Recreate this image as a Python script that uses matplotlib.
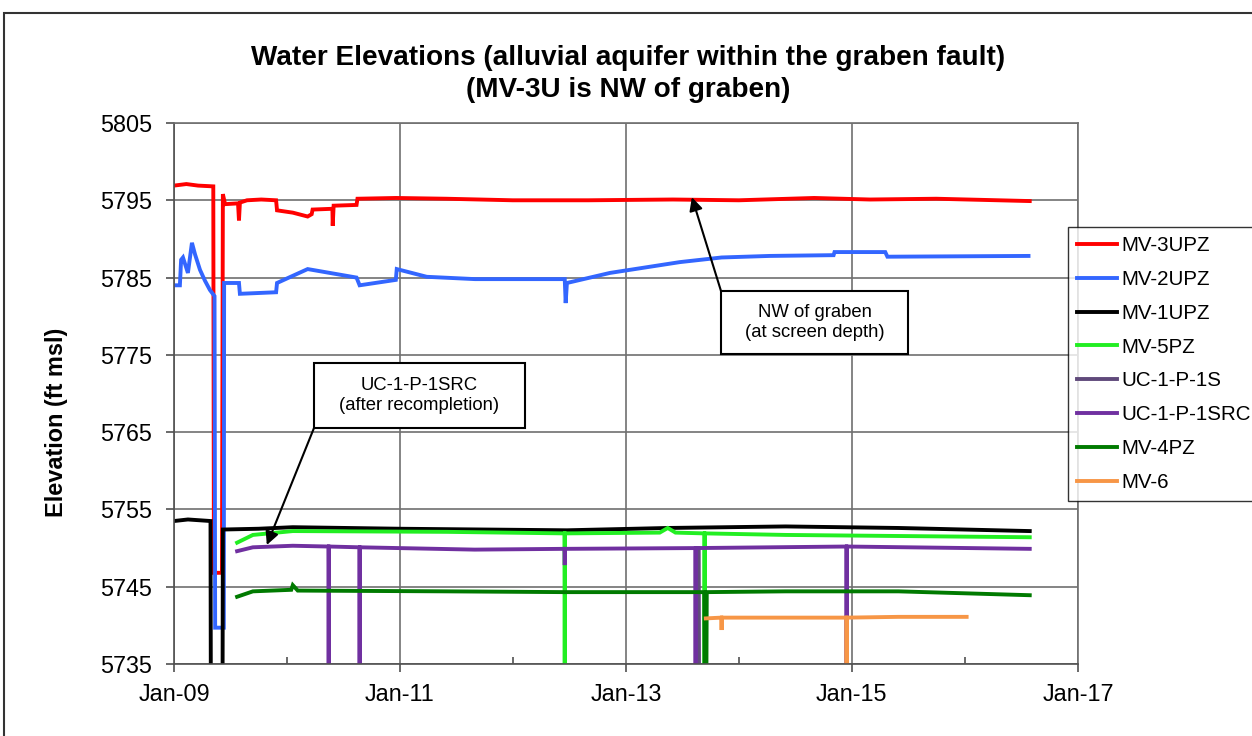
import pandas as pd
import matplotlib
matplotlib.use("Agg")
from matplotlib import pyplot as plt
import matplotlib.dates as mdates
from matplotlib.patches import Rectangle

plt.rcParams['font.family'] = ['Liberation Sans', 'DejaVu Sans']

# series: dates and elevations (ft msl)
mv3_dates = ['2009-01-01', '2009-02-10', '2009-03-20', '2009-05-08', '2009-05-10', '2009-06-05',
             '2009-06-08', '2009-06-15', '2009-07-27', '2009-07-30', '2009-08-02', '2009-08-25',
             '2009-10-10', '2009-11-27', '2009-11-30', '2010-01-20', '2010-03-09', '2010-03-22',
             '2010-03-25', '2010-05-28', '2010-05-29', '2010-06-01', '2010-08-14', '2010-08-17',
             '2010-12-20', '2011-06-01', '2012-01-01', '2012-09-01', '2013-06-01', '2014-01-01',
             '2014-09-01', '2015-03-01', '2015-10-01', '2016-07-29']
mv3_vals = [5796.9, 5797.1, 5796.9, 5796.8, 5746.8, 5746.8,
            5795.8, 5794.5, 5794.6, 5792.4, 5794.7, 5795.0,
            5795.1, 5795.0, 5793.7, 5793.4, 5792.9, 5793.2,
            5793.8, 5793.9, 5791.7, 5794.3, 5794.4, 5795.2,
            5795.3, 5795.2, 5795.0, 5795.0, 5795.1, 5795.0,
            5795.3, 5795.1, 5795.2, 5794.9]

mv2_dates = ['2009-01-01', '2009-01-20', '2009-01-24', '2009-01-30', '2009-02-15', '2009-02-28',
             '2009-03-10', '2009-03-26', '2009-04-11', '2009-04-27', '2009-05-12', '2009-05-14',
             '2009-06-11', '2009-06-12', '2009-07-30', '2009-08-02', '2009-11-27', '2009-11-30',
             '2010-03-09', '2010-08-14', '2010-08-24', '2010-12-19', '2010-12-22', '2011-03-29',
             '2011-09-01', '2012-06-17', '2012-06-20', '2012-06-24', '2012-11-10', '2013-06-24',
             '2013-11-06', '2014-04-10', '2014-11-03', '2014-11-06', '2015-04-19', '2015-04-26',
             '2016-07-25']
mv2_vals = [5784.0, 5784.0, 5787.3, 5787.6, 5785.6, 5789.5,
            5788.0, 5786.0, 5784.6, 5783.4, 5782.6, 5739.7,
            5739.7, 5784.3, 5784.3, 5782.9, 5783.1, 5784.3,
            5786.1, 5785.0, 5784.0, 5784.7, 5786.1, 5785.1,
            5784.8, 5784.8, 5781.7, 5784.3, 5785.6, 5787.0,
            5787.6, 5787.8, 5787.9, 5788.3, 5788.3, 5787.7,
            5787.8]

mv1_dates = ['2009-01-01', '2009-02-15', '2009-04-29', '2009-04-30', '2009-06-07', '2009-06-08',
             '2009-10-01', '2010-01-20', '2011-01-01', '2012-06-24', '2013-05-16', '2014-06-01',
             '2015-06-01', '2016-07-29']
mv1_vals = [5753.5, 5753.7, 5753.5, 5733.0, 5733.0, 5752.4,
            5752.5, 5752.7, 5752.5, 5752.3, 5752.6, 5752.8,
            5752.6, 5752.2]

mv5_dates = ['2009-07-24', '2009-09-13', '2010-01-20', '2011-06-01', '2012-06-16', '2012-06-17',
             '2012-06-18', '2013-04-20', '2013-05-16', '2013-06-10', '2013-09-11', '2013-09-12',
             '2013-09-13', '2014-06-01', '2016-07-29']
mv5_vals = [5750.7, 5751.7, 5752.2, 5752.1, 5751.9, 5735.0,
            5751.9, 5752.0, 5752.6, 5752.0, 5751.9, 5735.0,
            5751.9, 5751.7, 5751.4]

uc1s_dates = ['2013-08-24', '2013-08-25']
uc1s_vals = [5750.0, 5735.0]

uc1src_dates = ['2009-07-24', '2009-09-13', '2010-01-20', '2010-05-15', '2010-05-16', '2010-05-17',
                '2010-08-23', '2010-08-24', '2010-08-25', '2011-08-31', '2012-06-16', '2012-06-17',
                '2012-06-18', '2013-08-13', '2013-08-14', '2013-08-15', '2014-12-14', '2014-12-15',
                '2014-12-16', '2016-07-29']
uc1src_vals = [5749.6, 5750.1, 5750.3, 5750.2, 5735.0, 5750.2,
               5750.1, 5735.0, 5750.1, 5749.8, 5749.9, 5747.8,
               5749.9, 5750.0, 5735.0, 5750.0, 5750.2, 5735.0,
               5750.2, 5749.9]

mv4_dates = ['2009-07-24', '2009-09-13', '2010-01-15', '2010-01-20', '2010-02-05', '2011-06-01',
             '2012-06-17', '2013-09-11', '2013-09-12', '2013-09-18', '2013-09-19', '2014-06-01',
             '2015-06-01', '2016-07-29']
mv4_vals = [5743.7, 5744.4, 5744.6, 5745.2, 5744.5, 5744.4,
            5744.3, 5744.3, 5735.0, 5735.0, 5744.3, 5744.4,
            5744.4, 5743.9]

mv6_dates = ['2013-09-16', '2013-11-05', '2013-11-06', '2013-11-07', '2014-06-01', '2014-12-14',
             '2014-12-15', '2014-12-16', '2015-06-01', '2016-01-07']
mv6_vals = [5740.9, 5741.0, 5739.4, 5741.0, 5741.0, 5741.0,
            5735.0, 5741.0, 5741.1, 5741.1]

series = [
    ('MV-3UPZ', mv3_dates, mv3_vals, '#FF0000'),
    ('MV-2UPZ', mv2_dates, mv2_vals, '#3366FF'),
    ('MV-1UPZ', mv1_dates, mv1_vals, '#000000'),
    ('MV-5PZ', mv5_dates, mv5_vals, '#22EE22'),
    ('UC-1-P-1S', uc1s_dates, uc1s_vals, '#604A7B'),
    ('UC-1-P-1SRC', uc1src_dates, uc1src_vals, '#7030A0'),
    ('MV-4PZ', mv4_dates, mv4_vals, '#007A00'),
    ('MV-6', mv6_dates, mv6_vals, '#F79646'),
]

major_ticks = ['2009-01-01', '2011-01-01', '2013-01-01', '2015-01-01', '2017-01-01']
minor_ticks = ['2010-01-01', '2012-01-01', '2014-01-01', '2016-01-01']

W, H = 1252, 736
fig = plt.figure(figsize=(W / 100, H / 100), dpi=100)
ax = fig.add_axes([174 / W, 1 - 664 / H, 904 / W, 541 / H])

for name, d, v, c in series:
    ax.plot(pd.to_datetime(d), v, color=c, lw=2.8, label=name, solid_joinstyle='miter')

ax.set_xlim(pd.Timestamp('2009-01-01'), pd.Timestamp('2017-01-01'))
ax.set_ylim(5735, 5805)
ax.set_yticks(range(5735, 5806, 10))
ax.set_xticks(pd.to_datetime(major_ticks))
ax.set_xticks(pd.to_datetime(minor_ticks), minor=True)
ax.xaxis.set_major_formatter(mdates.DateFormatter('%b-%y'))

ax.grid(True, which='major', color='#707070', lw=1.2)
for s in ax.spines.values():
    s.set_color('#707070')
    s.set_linewidth(1.2)
ax.spines['left'].set_color('#505050')
ax.spines['bottom'].set_color('#505050')
ax.tick_params(axis='both', which='major', direction='out', length=6, width=1.2,
               color='#505050', labelsize=16.8, pad=8)
ax.tick_params(axis='y', pad=10)
ax.tick_params(axis='x', which='minor', direction='in', length=5, width=1.2, color='#505050')

ax.set_ylabel('Elevation (ft msl)', fontsize=16.9, fontweight='bold')
ax.yaxis.set_label_coords(-0.117, 0.447)

fig.text(628 / W, 1 - 74 / H,
         'Water Elevations (alluvial aquifer within the graben fault)\n(MV-3U is NW of graben)',
         ha='center', va='center', fontsize=20.1, fontweight='bold', linespacing=1.3)

leg = ax.legend(loc='upper left', bbox_to_anchor=(1068 / W, 1 - 227 / H),
                bbox_transform=fig.transFigure, fontsize=14.8, frameon=True,
                fancybox=False, borderaxespad=0, handlelength=1.95, handletextpad=0.2,
                labelspacing=0.72, borderpad=0.45)
leg.get_frame().set_edgecolor('#000000')
leg.get_frame().set_linewidth(1.0)
for ln in leg.get_lines():
    ln.set_linewidth(2.8)

# callout boxes
boxes = [
    (721, 291, 187, 63, 'NW of graben\n(at screen depth)'),
    (314, 363, 211, 65, 'UC-1-P-1SRC\n(after recompletion)'),
]
for x0, y0, bw, bh, txt in boxes:
    fig.add_artist(Rectangle((x0 / W, 1 - (y0 + bh) / H), bw / W, bh / H,
                             transform=fig.transFigure, facecolor='white',
                             edgecolor='black', lw=1.5, zorder=5))
    fig.text((x0 + bw / 2) / W, 1 - (y0 + bh / 2) / H, txt, ha='center', va='center',
             fontsize=13.3, linespacing=1.2, zorder=6)

arrow = dict(arrowstyle='-|>', color='black', lw=1.5, mutation_scale=20, shrinkA=0, shrinkB=0)
ax.annotate('', xy=(pd.Timestamp('2013-08-02'), 5795.4), xycoords='data',
            xytext=(721, H - 291), textcoords='figure pixels', arrowprops=arrow)
ax.annotate('', xy=(pd.Timestamp('2009-10-28'), 5750.4), xycoords='data',
            xytext=(314, H - 428), textcoords='figure pixels', arrowprops=arrow)

# outer frame of the chart
fig.add_artist(Rectangle((4 / W, -0.1), 1.2, 1 - 13 / H + 0.1, transform=fig.transFigure,
                         fill=False, edgecolor='#333333', lw=1.5))

fig.savefig('out.png', dpi=100)
